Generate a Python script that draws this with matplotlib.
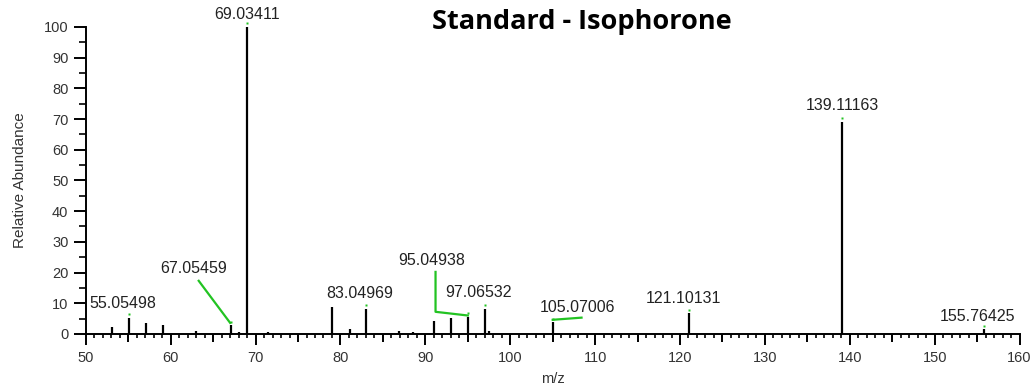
import numpy as np
import matplotlib
matplotlib.use("Agg")
import matplotlib.pyplot as plt

# peak list (m/z, relative abundance)
mz = [53.04, 55.05498, 57.07, 59.05, 63.02, 67.05459, 68.0, 69.03411, 71.5,
      79.05, 81.07, 83.04969, 86.9, 88.5, 91.05, 93.07, 95.04938, 97.06532,
      97.5, 105.07006, 121.10131, 139.11163, 155.76425]
intensity = [2.3, 5.3, 3.7, 2.8, 1.0, 2.8, 0.6, 100, 0.5,
             8.9, 1.6, 8.1, 1.1, 0.5, 4.2, 5.1, 5.6, 8.1,
             1.0, 3.8, 6.7, 69.0, 1.5]

labelled = [55.05498, 67.05459, 69.03411, 83.04969, 95.04938, 97.06532,
            105.07006, 121.10131, 139.11163, 155.76425]

plt.rcParams['font.family'] = ['Liberation Sans', 'DejaVu Sans']

fig = plt.figure(figsize=(10.34, 3.91), dpi=100)
ax = fig.add_axes([0.083, 0.146, 0.903, 0.785])

ax.vlines(mz, 0, intensity, color='black', lw=1.6)

inten = dict(zip(mz, intensity))
green = '#22c322'
for m in labelled:
    ax.plot(m, inten[m] + 1.2, 's', color=green, ms=1.5, mec='none', clip_on=False)

# label placement (x, y of text centre) -- layout only
label_pos = {
    55.05498: (54.4, 10.0),
    67.05459: (62.7, 21.2),
    69.03411: (69.0, 104.0),
    83.04969: (82.3, 13.3),
    95.04938: (90.7, 23.8),
    97.06532: (96.3, 13.5),
    105.07006: (107.9, 8.6),
    121.10131: (120.4, 11.4),
    139.11163: (139.1, 74.3),
    155.76425: (155.0, 5.8),
}
for m in labelled:
    tx, ty = label_pos[m]
    ax.text(tx, ty, f"{m:.5f}", ha='center', va='center', fontsize=11.5,
            color='#222222', clip_on=False)

# leader lines
ax.plot([63.3, 67.0], [17.3, 3.6], color=green, lw=1.6)
ax.plot([91.2, 91.2, 95.0], [20.2, 7.2, 6.0], color=green, lw=1.6)
ax.plot([105.0, 108.4], [4.6, 5.3], color=green, lw=1.6)

ax.set_xlim(50, 160)
ax.set_ylim(0, 100)
ax.set_xticks(np.arange(50, 161, 10))
ax.set_xticks(np.arange(50, 161, 1), minor=True)
ax.set_yticks(np.arange(0, 101, 10))
ax.set_yticks(np.arange(5, 100, 10), minor=True)

for s in ['top', 'right']:
    ax.spines[s].set_visible(False)
for s in ['left', 'bottom']:
    ax.spines[s].set_linewidth(1.4)

ax.tick_params(axis='x', which='major', length=8, width=1.4, labelsize=10.5,
               pad=4, labelcolor='#333333')
ax.tick_params(axis='x', which='minor', length=3, width=1.2)
ax.tick_params(axis='y', which='major', length=8.5, width=1.4, labelsize=10.5,
               pad=4, labelcolor='#333333')
ax.tick_params(axis='y', which='minor', length=5, width=1.2)

# medium ticks at the fives
sec = ax.secondary_xaxis('bottom')
sec.set_xticks(np.arange(55, 160, 10))
sec.set_xticklabels([])
sec.tick_params(length=5.5, width=1.4)
sec.spines['bottom'].set_visible(False)

ax.set_xlabel('m/z', fontsize=10.5, labelpad=5, color='#333333')
ax.set_ylabel('Relative Abundance', fontsize=11, labelpad=12, color='#333333')

fig.text(0.563, 0.944, 'Standard - Isophorone', ha='center', va='center',
         fontsize=19.5, fontweight='bold', family=['Open Sans', 'DejaVu Sans'])

fig.savefig('out.png', dpi=100)
